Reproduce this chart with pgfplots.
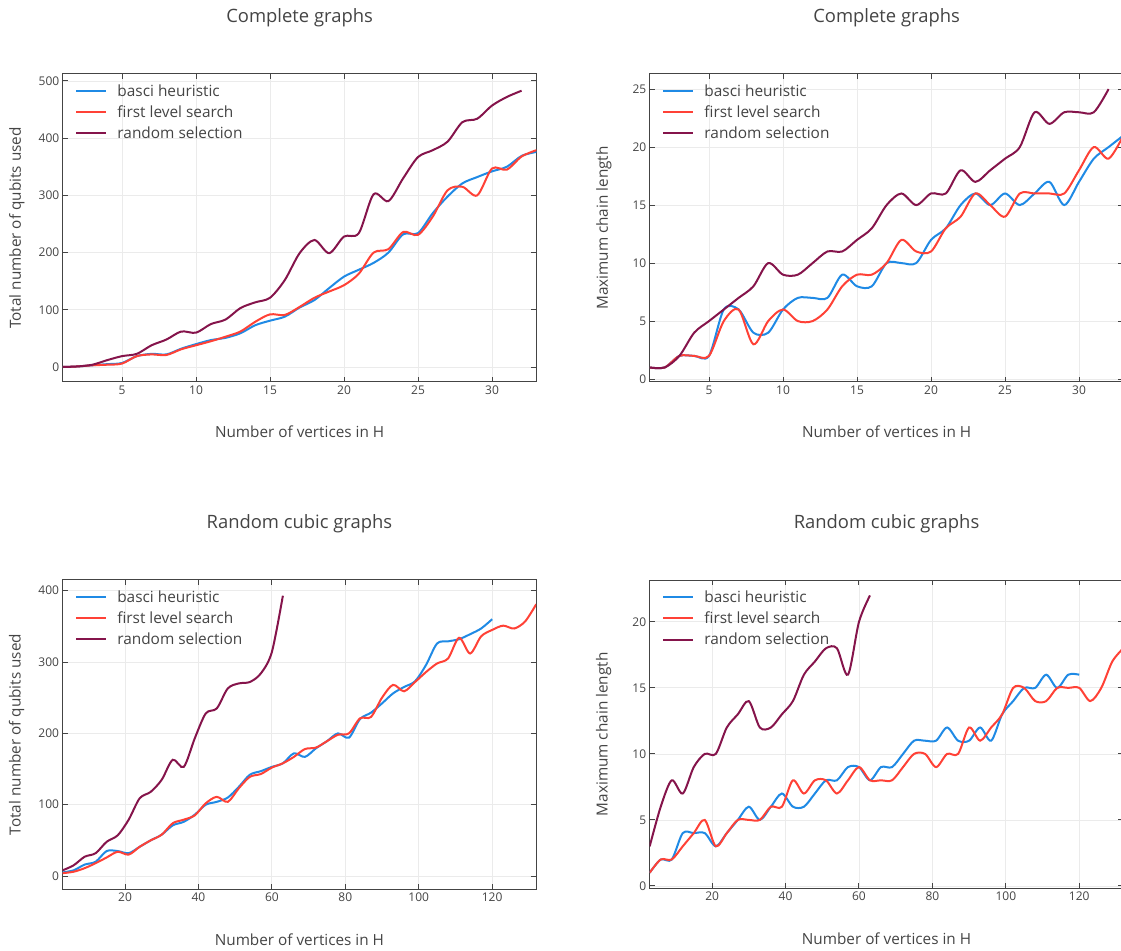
\documentclass[border=0pt]{standalone}
\usepackage{fontspec}
\setmainfont{Open Sans}
\usepackage{pgfplots}
\pgfplotsset{compat=1.18}
\definecolor{cblue}{RGB}{31,138,229}
\definecolor{cred}{RGB}{255,65,54}
\definecolor{cpurp}{RGB}{133,20,75}
\definecolor{txt}{RGB}{68,68,68}
\definecolor{gridc}{RGB}{235,235,235}
\pgfplotsset{
 myax/.style={
  scale only axis, width=473.6pt, height=308pt, anchor=south west,
  axis line style={txt, line width=1pt},
  tick align=inside, major tick length=5pt, tick style={txt, line width=1pt},
  grid=major, major grid style={gridc, line width=0.8pt},
  ticklabel style={font=\fontsize{12}{14}\selectfont, text=txt},
  /pgf/number format/assume math mode=true,
  /pgf/number format/1000 sep={},
  label style={font=\fontsize{15.3}{17}\selectfont, text=txt},
  title style={font=\fontsize{18.4}{21}\selectfont, text=txt, at={(0.5,1.164)}, anchor=center},
  xlabel style={at={(0.5,-0.163)}, anchor=center},
  ylabel style={at={(-0.097,0.5)}, anchor=center},
  legend style={at={(0.02,0.98)}, anchor=north west, draw=none, fill=none,
    font=\fontsize{15.4}{17}\selectfont, text=txt, row sep=4pt, cells={anchor=west}},
  legend image code/.code={\draw[#1, line width=2pt] (0pt,0pt) -- (30pt,0pt); \path (38pt,0pt);},
  xlabel={Number of vertices in H},
 },
 bl/.style={cblue, line width=2pt, smooth},
 rd/.style={cred, line width=2pt, smooth},
 pu/.style={cpurp, line width=2pt, smooth},
}
\begin{document}
\begin{tikzpicture}
\path[use as bounding box] (0pt,0pt) rectangle (1121pt,950pt);
% top left
\begin{axis}[myax, at={(62.8pt,568pt)}, xmin=1, xmax=33, ymin=-26.2, ymax=512.2,
  xtick={5,10,...,30}, ytick={0,100,...,500},
  title={Complete graphs}, ylabel={Total number of qubits used}]
\addplot[bl] coordinates {(1,0)(2,1)(3,3)(4,5)(5,7)(6,19)(7,23)(8,22)(9,32)(10,40)(11,47)(12,51)(13,59)(14,73)(15,81)(16,88)(17,104)(18,117)(19,138)(20,158)(21,170)(22,182)(23,200)(24,232)(25,234)(26,269)(27,298)(28,321)(29,332)(30,342)(31,350)(32,369)(33,376)};
\addlegendentry{basci heuristic}
\addplot[rd] coordinates {(1,0)(2,1)(3,3)(4,4)(5,6)(6,19)(7,22)(8,21)(9,31)(10,38)(11,45)(12,53)(13,62)(14,79)(15,92)(16,91)(17,105)(18,121)(19,132)(20,143)(21,163)(22,200)(23,206)(24,236)(25,231)(26,263)(27,309)(28,315)(29,300)(30,347)(31,345)(32,368)(33,379)};
\addlegendentry{first level search}
\addplot[pu] coordinates {(1,0)(2,1)(3,4)(4,12)(5,19)(6,23)(7,38)(8,48)(9,62)(10,60)(11,75)(12,83)(13,103)(14,113)(15,121)(16,152)(17,199)(18,222)(19,199)(20,228)(21,234)(22,302)(23,290)(24,330)(25,367)(26,379)(27,394)(28,428)(29,434)(30,457)(31,472)(32,483)};
\addlegendentry{random selection}
\end{axis}
% top right
\begin{axis}[myax, at={(649.8pt,568pt)}, xmin=1, xmax=33, ymin=-0.25, ymax=26.3,
  xtick={5,10,...,30}, ytick={0,5,...,25},
  title={Complete graphs}, ylabel={Maximum chain length}]
\addplot[bl] coordinates {(1,1)(2,1)(3,2)(4,2)(5,2)(6,6)(7,6)(8,4)(9,4)(10,6)(11,7)(12,7)(13,7)(14,9)(15,8)(16,8)(17,10)(18,10)(19,10)(20,12)(21,13)(22,15)(23,16)(24,15)(25,16)(26,15)(27,16)(28,17)(29,15)(30,17)(31,19)(32,20)(33,21)};
\addlegendentry{basci heuristic}
\addplot[rd] coordinates {(1,1)(2,1)(3,2)(4,2)(5,2)(6,5)(7,6)(8,3)(9,5)(10,6)(11,5)(12,5)(13,6)(14,8)(15,9)(16,9)(17,10)(18,12)(19,11)(20,11)(21,13)(22,14)(23,16)(24,15)(25,14)(26,16)(27,16)(28,16)(29,16)(30,18)(31,20)(32,19)(33,21)};
\addlegendentry{first level search}
\addplot[pu] coordinates {(1,1)(2,1)(3,2)(4,4)(5,5)(6,6)(7,7)(8,8)(9,10)(10,9)(11,9)(12,10)(13,11)(14,11)(15,12)(16,13)(17,15)(18,16)(19,15)(20,16)(21,16)(22,18)(23,17)(24,18)(25,19)(26,20)(27,23)(28,22)(29,23)(30,23)(31,23)(32,25)};
\addlegendentry{random selection}
\end{axis}
% bottom left
\begin{axis}[myax, at={(62.6pt,61pt)}, height=309pt, xmin=3, xmax=132, ymin=-18.2, ymax=415,
  xtick={20,40,...,120}, ytick={0,100,...,400},
  title={Random cubic graphs}, ylabel={Total number of qubits used}]
\addplot[bl] coordinates {(3,5)(6,8)(9,16)(12,20)(15,35)(18,35)(21,32)(24,41)(27,50)(30,58)(33,71)(36,76)(39,86)(42,100)(45,104)(48,110)(51,125)(54,142)(57,147)(60,153)(63,158)(66,172)(69,167)(72,179)(75,189)(78,200)(81,194)(84,220)(87,229)(90,242)(93,256)(96,265)(99,273)(102,296)(105,326)(108,329)(111,332)(114,339)(117,347)(120,360)};
\addlegendentry{basci heuristic}
\addplot[rd] coordinates {(3,4)(6,6)(9,11)(12,18)(15,26)(18,34)(21,30)(24,41)(27,50)(30,58)(33,74)(36,79)(39,85)(42,102)(45,111)(48,104)(51,123)(54,139)(57,143)(60,152)(63,158)(66,167)(69,178)(72,180)(75,189)(78,198)(81,200)(84,221)(87,223)(90,250)(93,268)(96,259)(99,272)(102,286)(105,298)(108,305)(111,334)(114,312)(117,336)(120,345)(123,351)(126,347)(129,357)(132,381)};
\addlegendentry{first level search}
\addplot[pu] coordinates {(3,8)(6,15)(9,27)(12,32)(15,48)(18,57)(21,79)(24,109)(27,118)(30,135)(33,163)(36,153)(39,193)(42,228)(45,235)(48,263)(51,270)(54,272)(57,284)(60,314)(63,393)};
\addlegendentry{random selection}
\end{axis}
% bottom right
\begin{axis}[myax, at={(649.7pt,61.7pt)}, xmin=3, xmax=132, ymin=-0.18, ymax=23.15,
  xtick={20,40,...,120}, ytick={0,5,...,20},
  title={Random cubic graphs}, ylabel={Maximum chain length}]
\addplot[bl] coordinates {(3,1)(6,2)(9,2)(12,4)(15,4)(18,4)(21,3)(24,4)(27,5)(30,6)(33,5)(36,6)(39,7)(42,6)(45,6)(48,7)(51,8)(54,8)(57,9)(60,9)(63,8)(66,9)(69,9)(72,10)(75,11)(78,11)(81,11)(84,12)(87,11)(90,11)(93,12)(96,11)(99,13)(102,14)(105,15)(108,15)(111,16)(114,15)(117,16)(120,16)};
\addlegendentry{basci heuristic}
\addplot[rd] coordinates {(3,1)(6,2)(9,2)(12,3)(15,4)(18,5)(21,3)(24,4)(27,5)(30,5)(33,5)(36,6)(39,6)(42,8)(45,7)(48,8)(51,8)(54,7)(57,8)(60,9)(63,8)(66,8)(69,8)(72,9)(75,10)(78,10)(81,9)(84,10)(87,10)(90,12)(93,11)(96,12)(99,13)(102,15)(105,15)(108,14)(111,14)(114,15)(117,15)(120,15)(123,14)(126,15)(129,17)(132,18)};
\addlegendentry{first level search}
\addplot[pu] coordinates {(3,3)(6,6)(9,8)(12,7)(15,9)(18,10)(21,10)(24,12)(27,13)(30,14)(33,12)(36,12)(39,13)(42,14)(45,16)(48,17)(51,18)(54,18)(57,16)(60,20)(63,22)};
\addlegendentry{random selection}
\end{axis}
\end{tikzpicture}
\end{document}
